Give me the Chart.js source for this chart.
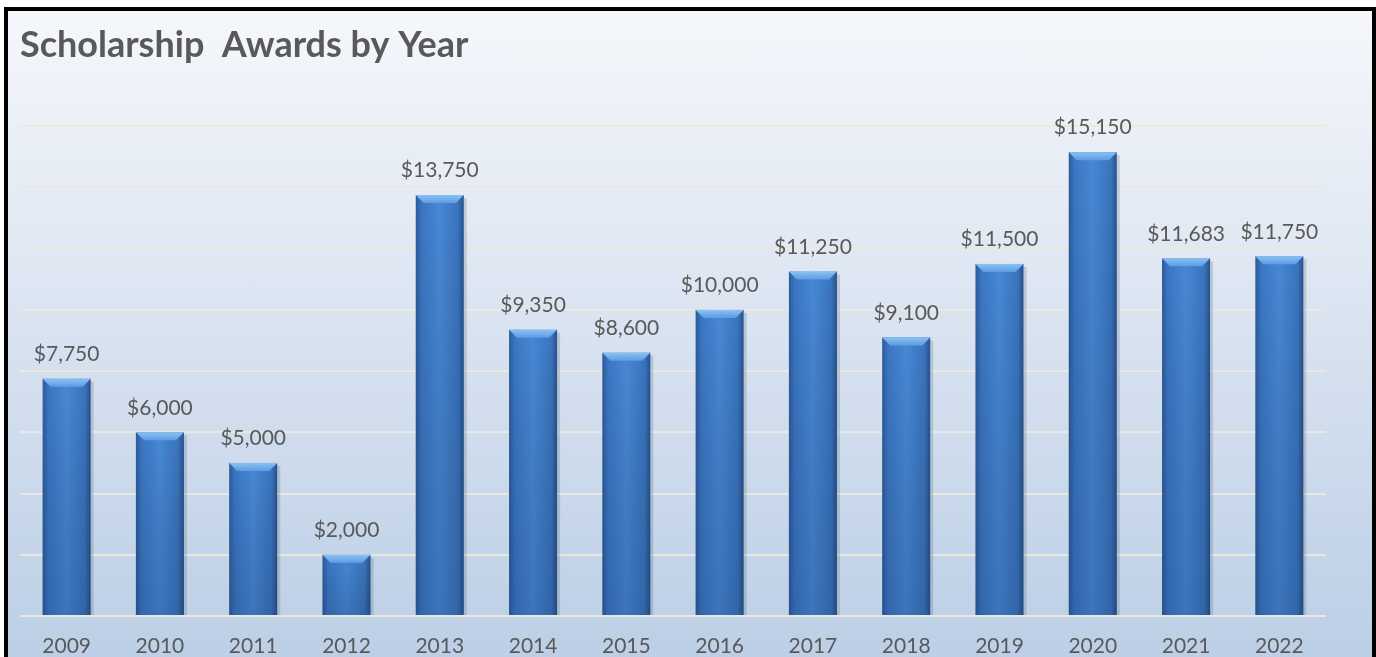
<!DOCTYPE html>
<html>
<head>
<meta charset="utf-8">
<script src="https://cdn.jsdelivr.net/npm/chart.js@4.4.1/dist/chart.umd.min.js"></script>
<style>
  html, body { margin: 0; padding: 0; background: #fff; overflow: hidden; }
  #frame {
    position: absolute; left: 4px; top: 7px; width: 1364px; height: 700px;
    border: 4px solid #000;
    background: linear-gradient(to bottom, #f5f7fb 0%, #e3eaf4 30%, #c9d8eb 70%, #b8cce4 100%);
  }
  #wrap { position: absolute; left: 0; top: 0; width: 1376px; height: 657px; }
</style>
</head>
<body>
<div id="frame"></div>
<div id="wrap"><canvas id="chart"></canvas></div>
<script>
var years = ['2009', '2010', '2011', '2012', '2013', '2014', '2015', '2016', '2017', '2018', '2019', '2020', '2021', '2022'];
var awards = [7750, 6000, 5000, 2000, 13750, 9350, 8600, 10000, 11250, 9100, 11500, 15150, 11683, 11750];

var textGray = '#595959';
var fontFamily = 'Lato, "Open Sans", sans-serif';

// draws the beveled look on each bar and the dollar labels above
var barStyle = {
    id: 'barStyle',
    afterDatasetsDraw: function(chart) {
        var ctx = chart.ctx;
        var meta = chart.getDatasetMeta(0);
        meta.data.forEach(function(bar, i) {
            var left = bar.x - bar.width / 2;
            var right = bar.x + bar.width / 2;
            var top = bar.y;
            var bottom = bar.base;
            var w = bar.width;

            ctx.save();
            // soft shadow
            ctx.fillStyle = 'rgba(40,60,90,0.18)';
            ctx.fillRect(right, top + 3, 3, bottom - top - 3);

            var g = ctx.createLinearGradient(left, 0, right, 0);
            g.addColorStop(0, '#2b5b98');
            g.addColorStop(0.12, '#3b76c3');
            g.addColorStop(0.5, '#4788d5');
            g.addColorStop(0.88, '#3a74bd');
            g.addColorStop(1, '#27518c');
            ctx.fillStyle = g;
            ctx.fillRect(left, top, w, bottom - top);

            // vertical darkening toward the bottom
            var gv = ctx.createLinearGradient(0, top, 0, bottom);
            gv.addColorStop(0, 'rgba(0,0,0,0)');
            gv.addColorStop(1, 'rgba(10,30,70,0.18)');
            ctx.fillStyle = gv;
            ctx.fillRect(left, top, w, bottom - top);

            // top bevel
            var b = 8;
            var gt = ctx.createLinearGradient(0, top, 0, top + b);
            gt.addColorStop(0, '#8cc0f2');
            gt.addColorStop(1, '#5c9ce3');
            ctx.fillStyle = gt;
            ctx.beginPath();
            ctx.moveTo(left, top);
            ctx.lineTo(right, top);
            ctx.lineTo(right - b, top + b);
            ctx.lineTo(left + b, top + b);
            ctx.closePath();
            ctx.fill();

            // label
            ctx.fillStyle = textGray;
            ctx.font = '21px ' + fontFamily;
            ctx.textAlign = 'center';
            ctx.textBaseline = 'bottom';
            ctx.fillText('$' + awards[i].toLocaleString('en-US'), bar.x, top - 14);
            ctx.restore();
        });
    }
};

var ctx = document.getElementById('chart').getContext('2d');
new Chart(ctx, {
    type: 'bar',
    data: {
        labels: years,
        datasets: [{
            label: 'Awards',
            data: awards,
            backgroundColor: 'rgba(0,0,0,0)',
            borderWidth: 0,
            barPercentage: 0.515,
            categoryPercentage: 1
        }]
    },
    options: {
        responsive: true,
        maintainAspectRatio: false,
        animation: false,
        layout: { padding: { left: 20, right: 50, top: 0, bottom: 0 } },
        plugins: {
            legend: { display: false },
            tooltip: { enabled: false },
            title: {
                display: true,
                text: 'Scholarship  Awards by Year',
                align: 'start',
                color: textGray,
                font: { family: fontFamily, size: 36, weight: 'bold' },
                padding: { top: 24, bottom: 59 }
            }
        },
        scales: {
            x: {
                grid: { display: false, drawTicks: false },
                border: { display: false },
                ticks: {
                    color: textGray,
                    font: { family: fontFamily, size: 21 },
                    padding: 18
                },
                afterFit: function(axis) { axis.height = 41; }
            },
            y: {
                min: 0,
                max: 16000,
                ticks: { display: false, stepSize: 2000 },
                border: { display: false },
                grid: { color: 'rgba(236,232,222,0.95)', lineWidth: 2, drawTicks: false }
            }
        }
    },
    plugins: [barStyle]
});
</script>
</body>
</html>
